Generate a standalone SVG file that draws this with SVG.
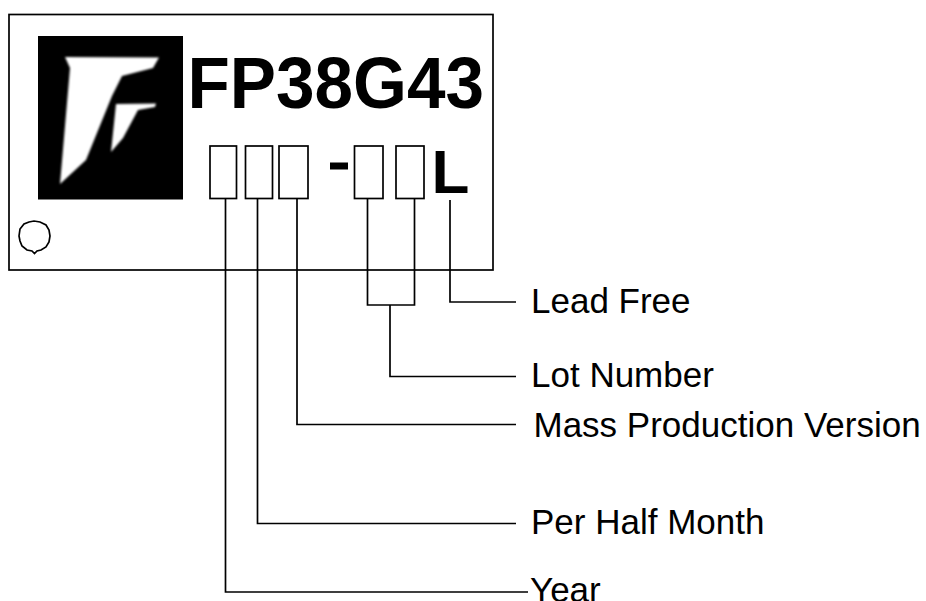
<svg xmlns="http://www.w3.org/2000/svg" width="926" height="601" viewBox="0 0 926 601">
<defs><filter id="soft" x="-5%" y="-5%" width="110%" height="110%"><feGaussianBlur stdDeviation="0.8"/></filter></defs>
<style>
.l{fill:none;stroke:#000;stroke-width:1.7}
.b{fill:#fff;stroke:#000;stroke-width:1.7}
.t{font-family:"Liberation Sans",Arial,sans-serif;font-size:35px;fill:#000}
.h{font-family:"Liberation Sans",Arial,sans-serif;font-weight:700;fill:#000}
</style>
<rect width="926" height="601" fill="#fff"/>
<g id="chip">
<rect class="l" x="9" y="14.500" width="484" height="255.500"/>
</g>
<g id="logo">
<rect x="38" y="36" width="145" height="163.500" fill="#000"/>
<g filter="url(#soft)">
<path d="M65 57L159 57.500L153 68L122 76L112 96L86 160L60 184L70 68Z" fill="#fff"/>
<path d="M116 104L156 103.500L155 107L138 110L123 138L111 152Z" fill="#fff"/>
</g>
</g>
<g id="pin-mark">
<path d="M19 236L20 229L24 224L29 222L34 221L40 222L46 225L49 230L50 236L49 242L46 247L41 250L37 251L34.500 253.500L32 251L27 250L22 246L20 241Z" fill="#fff" stroke="#000" stroke-width="1.700"/>
</g>
<g id="part-number"><text class="h" x="187.500" y="108" font-size="72" textLength="296.500" lengthAdjust="spacingAndGlyphs">FP38G43</text></g>
<g id="year-box"><rect class="b" x="210" y="146" width="26.500" height="52.500"/></g>
<g id="half-month-box"><rect class="b" x="245.500" y="146" width="27" height="52.500"/></g>
<g id="version-box"><rect class="b" x="279" y="146" width="29" height="52.500"/></g>
<g id="dash"><rect x="330" y="162.500" width="18" height="7" fill="#000"/></g>
<g id="lot-box-1"><rect class="b" x="354.500" y="146" width="28.500" height="52.500"/></g>
<g id="lot-box-2"><rect class="b" x="396" y="146" width="28" height="52.500"/></g>
<g id="lead-mark"><text class="h" x="431.500" y="192.500" font-size="62">L</text></g>
<g id="connectors">
<path class="l" d="M225.500 198.500V592H528"/>
<path class="l" d="M257.500 198.500V523.500H516"/>
<path class="l" d="M297 198.500V424.500H516"/>
<path class="l" d="M367.500 198.500V305H414.500V198.500"/>
<path class="l" d="M390 305V376.500H516"/>
<path class="l" d="M450 200V302H516"/>
</g>
<g id="label-lead"><text class="t" x="531" y="312.500">Lead Free</text></g>
<g id="label-lot"><text class="t" x="531" y="386.500">Lot Number</text></g>
<g id="label-version"><text class="t" x="533.500" y="436.500">Mass Production Version</text></g>
<g id="label-month"><text class="t" x="531" y="533.500">Per Half Month</text></g>
<g id="label-year"><text class="t" x="530" y="602">Year</text></g>
</svg>
